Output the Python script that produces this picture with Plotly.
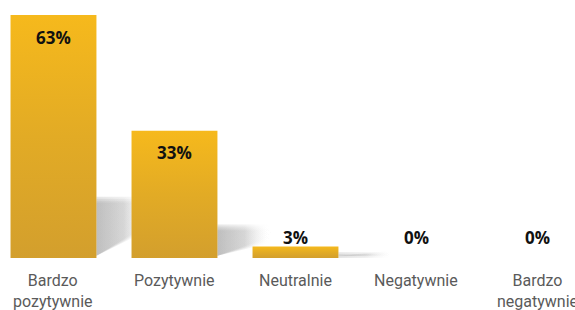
import plotly.graph_objects as go

categories = ["Bardzo<br>pozytywnie", "Pozytywnie", "Neutralnie", "Negatywnie", "Bardzo<br>negatywnie"]
values = [63, 33, 3, 0, 0]
value_labels = ["63%", "33%", "3%", "0%", "0%"]

BAR_W = 0.71
half = BAR_W / 2
bar_scale = [[0, "#D39F2D"], [0.5, "#E2AB25"], [1, "#F6B91C"]]
shadow_scale = [[0, "rgba(170,170,170,0.30)"], [0.5, "rgba(190,190,190,0.22)"], [1, "rgba(255,255,255,0)"]]

fig = go.Figure()

# soft shadows cast to the right of each bar (layered for a blurred edge)
for i, v in enumerate(values):
    if v <= 0:
        continue
    x0 = i + half
    x1 = x0 + 0.45
    for k in range(4):
        top = 0.24 * v + (1.5 - k) * 0.5
        bot_r = 0.12 * v + 0.8 + (k - 1.5) * 0.5
        xs = [x0, x0, x1, x1, x0]
        ys = [0.6, top, top, bot_r, 0.6]
        fig.add_trace(go.Scatter(x=xs, y=ys, mode="lines", fill="toself", line=dict(width=0),
                                 fillgradient=dict(type="horizontal", colorscale=shadow_scale),
                                 hoverinfo="skip", showlegend=False))

# bars with vertical gradient
for i, v in enumerate(values):
    if v <= 0:
        continue
    xs = [i - half, i - half, i + half, i + half, i - half]
    ys = [0, v, v, 0, 0]
    fig.add_trace(go.Scatter(x=xs, y=ys, mode="lines", fill="toself", line=dict(width=0),
                             fillgradient=dict(type="vertical", colorscale=bar_scale),
                             hoverinfo="skip", showlegend=False))

# value labels
for i, (v, t) in enumerate(zip(values, value_labels)):
    if v >= 10:
        fig.add_annotation(x=i, y=v, text=f"<b>{t}</b>", showarrow=False, yshift=-22,
                           font=dict(family="Open Sans", size=17, color="#111111"))
    else:
        fig.add_annotation(x=i, y=0, text=f"<b>{t}</b>", showarrow=False, yshift=21,
                           font=dict(family="Open Sans", size=17, color="#111111"))

# category labels
for i, c in enumerate(categories):
    fig.add_annotation(x=i, y=0, yref="paper", text=c, showarrow=False, yanchor="top", yshift=-11,
                       font=dict(family="Roboto", size=16, color="#5a5a5a"))

fig.update_layout(
    width=575, height=310,
    margin=dict(l=0, r=0, t=0, b=52),
    paper_bgcolor="white", plot_bgcolor="white",
    xaxis=dict(range=[-0.442, 4.310], visible=False, fixedrange=True),
    yaxis=dict(range=[0, 66.9], visible=False, fixedrange=True),
    showlegend=False,
)

fig.write_html("out.html", config={"displayModeBar": False},
               post_script="document.body.style.margin='0';document.body.style.overflow='hidden';")
